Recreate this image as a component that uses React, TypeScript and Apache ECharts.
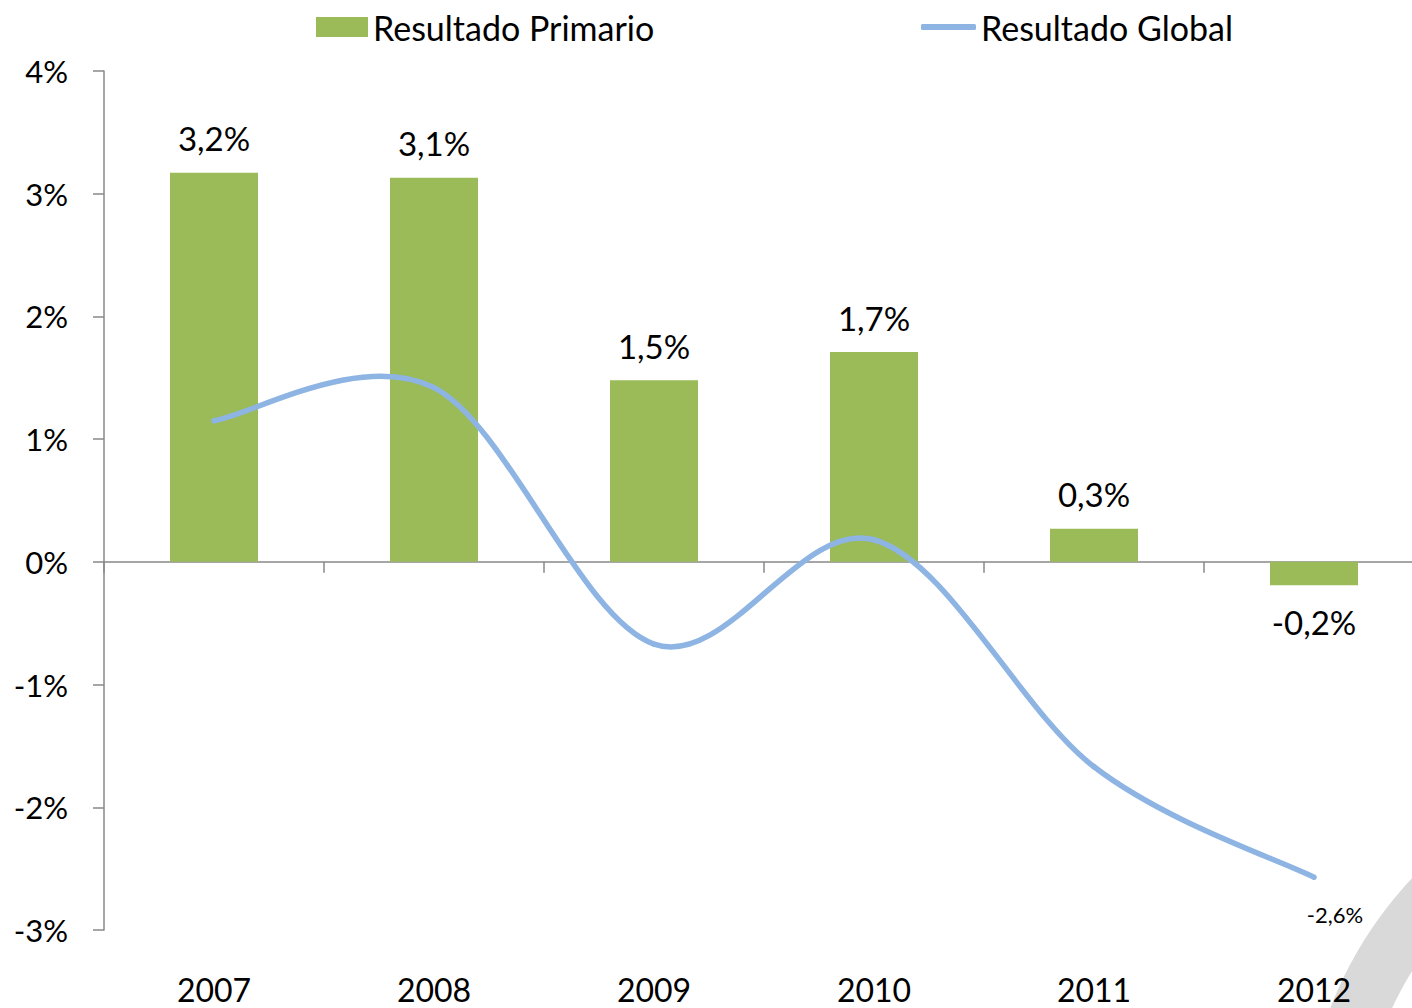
import React, { useEffect, useRef } from "react";
import * as echarts from "echarts";

const categories = ["2007", "2008", "2009", "2010", "2011", "2012"];
const primario = [3.17, 3.13, 1.48, 1.71, 0.27, -0.19];
const global = [1.15, 1.42, -0.67, 0.18, -1.67, -2.57];
const yTicks = { min: -3, max: 4, interval: 1 };

const FONT = "Lato";
const LINE_COLOR = "#8DB4E2";
const fmt = (v: number) => v.toFixed(1).replace(".", ",") + "%";

export default function App() {
  const ref = useRef<HTMLDivElement>(null);
  useEffect(() => {
    if (!ref.current) return;
    const chart = echarts.init(ref.current, null, { renderer: "svg" });
    const n = global.length;
    const renderItem = (params: any, api: any) => {
      const i = params.dataIndex;
      const pt = (j: number) => {
        const k = Math.max(0, Math.min(n - 1, j));
        return api.coord([k, global[k]]);
      };
      if (i === n - 1) {
        const p = pt(i);
        return {
          type: "text",
          x: p[0] + 21,
          y: p[1] + 37,
          style: {
            text: fmt(global[i]),
            fontFamily: FONT,
            fontSize: 22,
            fill: "#000",
            align: "center",
            verticalAlign: "middle",
          },
        };
      }
      const p0 = pt(i - 1);
      const p1 = pt(i);
      const p2 = pt(i + 1);
      const p3 = pt(i + 2);
      const t = 1 / 6;
      return {
        type: "bezierCurve",
        shape: {
          x1: p1[0],
          y1: p1[1],
          x2: p2[0],
          y2: p2[1],
          cpx1: p1[0] + (p2[0] - p0[0]) * t,
          cpy1: p1[1] + (p2[1] - p0[1]) * t,
          cpx2: p2[0] - (p3[0] - p1[0]) * t,
          cpy2: p2[1] - (p3[1] - p1[1]) * t,
        },
        style: { stroke: LINE_COLOR, lineWidth: 5.5, fill: "none", lineCap: "round" },
      };
    };
    const option: any = {
      animation: false,
      backgroundColor: "#ffffff",
      textStyle: { fontFamily: FONT },
      legend: [
        {
          data: [{ name: "Resultado Primario", icon: "rect", itemStyle: { color: "#9BBB59" } }],
          left: 311,
          top: 5,
          itemWidth: 52,
          itemHeight: 20,
          textStyle: { fontFamily: FONT, fontSize: 34, color: "#000" },
        },
        {
          data: [{ name: "Resultado Global", icon: "roundRect", itemStyle: { color: LINE_COLOR } }],
          left: 916,
          top: 5,
          itemWidth: 55,
          itemHeight: 6,
          textStyle: { fontFamily: FONT, fontSize: 34, color: "#000" },
        },
      ],
      grid: {
        left: 104,
        top: 71,
        width: 1320,
        height: 859,
        containLabel: false,
        outerBoundsMode: "none",
      },
      xAxis: [
        {
          type: "category",
          data: categories,
          axisLine: { onZero: true, lineStyle: { color: "#888888", width: 1.5 } },
          axisTick: { show: true, length: 11, lineStyle: { color: "#888888", width: 1.5 } },
          axisLabel: { show: false },
          splitLine: { show: false },
        },
        {
          type: "category",
          data: categories,
          position: "bottom",
          axisLine: { show: false, onZero: false },
          axisTick: { show: false },
          axisLabel: { show: true, margin: 43, fontFamily: FONT, fontSize: 32, color: "#000" },
          splitLine: { show: false },
        },
      ],
      yAxis: {
        type: "value",
        min: yTicks.min,
        max: yTicks.max,
        interval: yTicks.interval,
        axisLine: { show: true, lineStyle: { color: "#888888", width: 1.5 } },
        axisTick: { show: true, length: 11, lineStyle: { color: "#888888", width: 1.5 } },
        axisLabel: {
          margin: 36,
          fontFamily: FONT,
          fontSize: 31,
          color: "#000",
          formatter: (v: number) => `${v}%`,
        },
        splitLine: { show: false },
      },
      series: [
        {
          name: "Resultado Primario",
          type: "bar",
          xAxisIndex: 0,
          data: primario.map((v) => ({
            value: v,
            label: { position: v < 0 ? "bottom" : "top", distance: v < 0 ? 20 : 18 },
          })),
          barWidth: "40%",
          itemStyle: { color: "#9BBB59" },
          label: {
            show: true,
            fontFamily: FONT,
            fontSize: 33,
            color: "#000",
            formatter: (p: any) => fmt(p.value),
          },
          z: 2,
        },
        {
          name: "Resultado Global",
          type: "custom",
          xAxisIndex: 0,
          data: global.map((v, i) => [i, v]),
          renderItem,
          itemStyle: { color: LINE_COLOR },
          z: 3,
        },
      ],
      graphic: [
        {
          type: "ring",
          shape: { cx: 1700, cy: 1150, r: 396, r0: 339 },
          style: { fill: "#d9d9d9" },
          z: -10,
          silent: true,
        },
      ],
    };
    chart.setOption(option);
    return () => chart.dispose();
  }, []);
  return (
    <div
      ref={ref}
      style={{ position: "fixed", left: 0, top: 0, width: 1412, height: 1008 }}
    />
  );
}
